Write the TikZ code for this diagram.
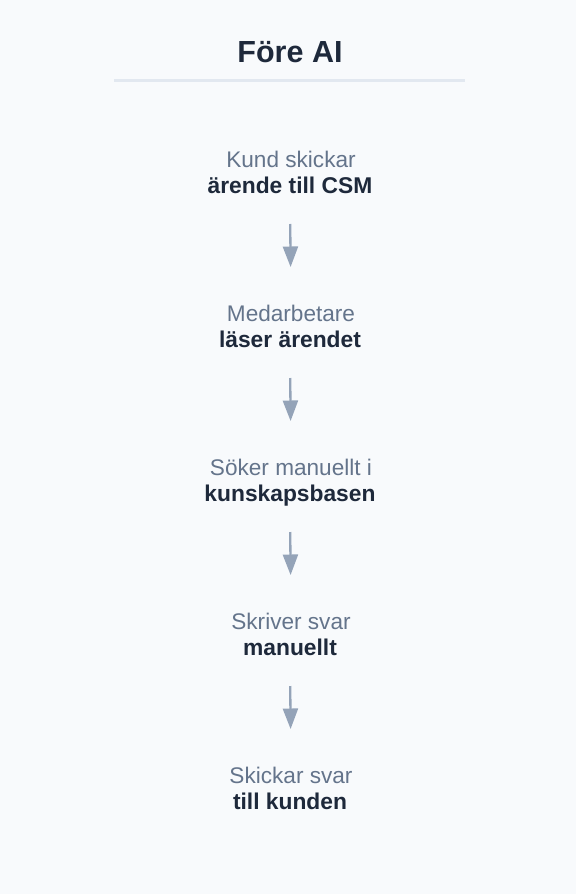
\documentclass[tikz,border=0pt]{standalone}
\usepackage{fontspec}
\setmainfont{Liberation Sans}
\usetikzlibrary{arrows.meta}
\definecolor{bgc}{HTML}{F8FAFC}
\definecolor{darkc}{HTML}{1E293B}
\definecolor{slatec}{HTML}{64748B}
\definecolor{arrowc}{HTML}{94A3B8}
\definecolor{rulec}{HTML}{E2E8F0}
\begin{document}
\begin{tikzpicture}[x=1pt,y=-1pt,
  lt/.style={anchor=base, inner sep=0pt, font=\fontsize{22.6}{26}\selectfont, text=slatec},
  bt/.style={anchor=base, inner sep=0pt, font=\fontsize{22.8}{26}\selectfont\bfseries, text=darkc},
  arr/.style={draw=arrowc, line width=2.3pt, -{Triangle[length=20.5pt,width=15pt]}, shorten <=31pt, shorten >=54pt}]
\fill[bgc] (0,0) rectangle (576,894);
\useasboundingbox (0,0) rectangle (576,894);
\node[anchor=base, inner sep=0pt, font=\fontsize{30.5}{34}\selectfont\bfseries, text=darkc] (title) at (290,62.3) {Före AI};
\draw[rulec, line width=3pt] (114,80.3) -- (465,80.3);
\node[lt] (t1) at (291,167) {Kund skickar};
\node[bt] (b1) at (290,193) {ärende till CSM};
\node[lt] (t2) at (291,321) {Medarbetare};
\node[bt] (b2) at (290,347) {läser ärendet};
\node[lt] (t3) at (291,475) {Söker manuellt i};
\node[bt] (b3) at (290,501) {kunskapsbasen};
\node[lt] (t4) at (291,629) {Skriver svar};
\node[bt] (b4) at (290,655) {manuellt};
\node[lt] (t5) at (291,783) {Skickar svar};
\node[bt] (b5) at (290,809) {till kunden};
\draw[arr] (b1.base) -- (t2.base);
\draw[arr] (b2.base) -- (t3.base);
\draw[arr] (b3.base) -- (t4.base);
\draw[arr] (b4.base) -- (t5.base);
\end{tikzpicture}
\end{document}
